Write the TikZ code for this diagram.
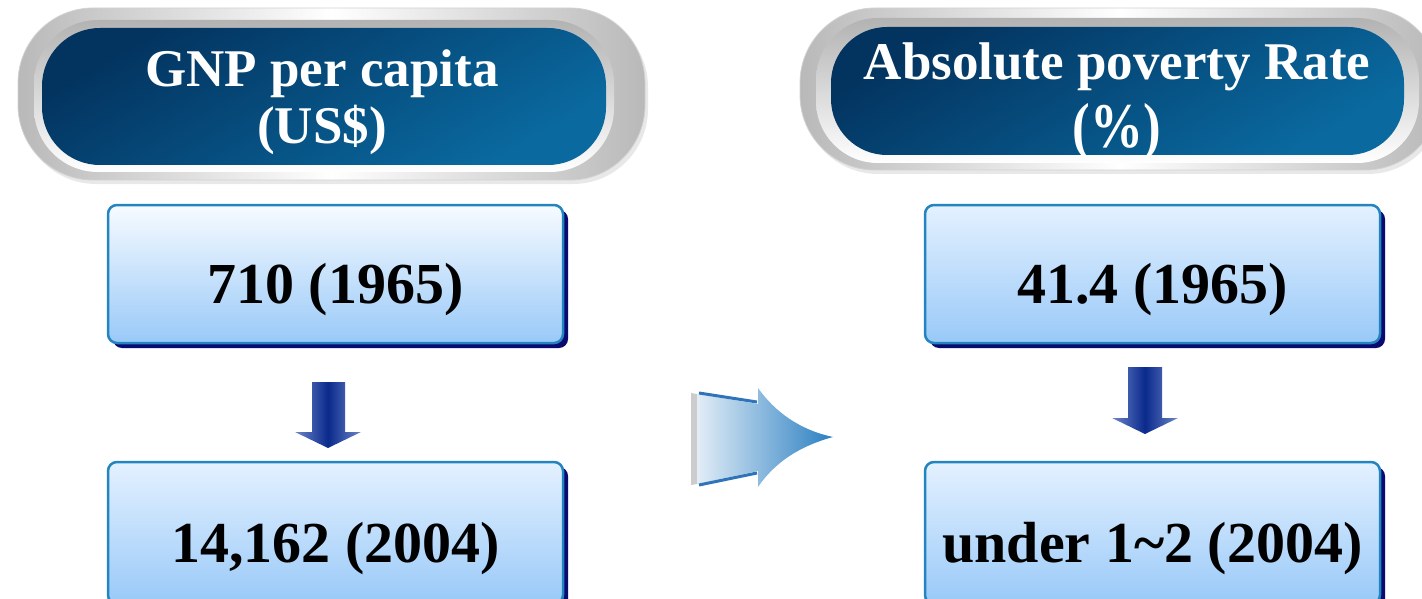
\documentclass[tikz,border=0pt]{standalone}
\usepackage{fontspec}
\usepackage{graphicx}
\setmainfont{Liberation Serif}
\usetikzlibrary{shadows}

\definecolor{hdrdark}{HTML}{03335F}
\definecolor{hdrlight}{HTML}{0A6AA0}
\definecolor{boxedge}{HTML}{2385C0}
\definecolor{boxbottom}{HTML}{99C9F8}
\definecolor{boxtopA}{HTML}{F7FBFF}
\definecolor{boxtopB}{HTML}{E4F1FF}
\definecolor{shadownavy}{HTML}{0A0A70}
\definecolor{downmid}{HTML}{0A2A8C}
\definecolor{downside}{HTML}{6D86C8}
\definecolor{bigleft}{HTML}{E2EDF7}
\definecolor{bigright}{HTML}{2A7FC1}
\definecolor{bigedge}{HTML}{2F74B9}

\tikzset{
  silver/.style={left color=gray!55, right color=gray!55, middle color=white,
    draw=gray!35, line width=0.8pt},
  ring/.style={top color=gray!60, bottom color=white},
  hdrpill/.style={rectangle, inner sep=0pt, top color=hdrdark,
    bottom color=hdrlight, shading angle=30},
  hdrtext/.style={text=white, align=center, inner sep=0pt,
    font=\fontsize{53}{57}\selectfont\bfseries},
  valbox/.style={rectangle, rounded corners=9pt, draw=boxedge, line width=2.5pt,
    minimum width=455pt, top color=#1, bottom color=boxbottom,
    drop shadow={shadow xshift=5pt, shadow yshift=-5pt, fill=shadownavy, opacity=1},
    font=\fontsize{58}{60}\selectfont\bfseries,
    text height=58pt, text depth=0pt, inner sep=0pt},
  downarrow/.style={left color=downside, right color=downside, middle color=downmid},
}

\begin{document}
\begin{tikzpicture}[x=1pt,y=-1pt]
\useasboundingbox (0,0) rectangle (1422,599);
\clip (0,0) rectangle (1422,599);

% ---- left heading: silver frame and blue pill
\fill[gray!18, rounded corners=75pt] (21,12) rectangle (648,184);
\path[silver, rounded corners=75pt] (18,8) rectangle (645,180);
\path[ring, rounded corners=64pt] (34,20) rectangle (614,172);
\node[hdrpill, minimum width=564pt, minimum height=137pt, rounded corners=58pt] (hL) at (324,96.5) {};
\node[hdrtext] (hLt) at (322,102.5) {GNP per capita\\(US\$)};

% ---- right heading
\fill[gray!18, rounded corners=75pt] (803,12) rectangle (1443,174);
\path[silver, rounded corners=75pt] (800,8) rectangle (1440,170);
\path[ring, rounded corners=62pt] (816,18) rectangle (1419,163);
\node[hdrpill, minimum width=573pt, minimum height=128pt, rounded corners=56pt] (hR) at (1117.5,91) {};
\node[hdrtext] (hRt) at (1117,101.5) {Absolute poverty Rate\\[11pt]\scalebox{1}[1.2]{(\%)}};

% ---- value boxes
\node[valbox=boxtopA, minimum height=138pt] (b1) at (335.5,274) {710 (1965)};
\node[valbox=boxtopB, minimum height=142pt] (b2) at (335.5,533) {14,162 (2004)};
\node[valbox=boxtopB, minimum height=138pt] (b3) at (1152.5,274) {41.4 (1965)};
\node[valbox=boxtopB, minimum height=142pt] (b4) at (1152.5,533) {under 1\textasciitilde2 (2004)};

% ---- downward block arrows
\shade[downarrow] (312,382) -- (345,382) -- (345,432) -- (361,432) -- (328,448)
  -- (295,432) -- (312,432) -- cycle;
\shade[downarrow] (1128,367) -- (1162,367) -- (1162,418) -- (1178,418) -- (1145,434)
  -- (1112,418) -- (1128,418) -- cycle;

% ---- large arrow between the two columns
\fill[gray!40] (691,393) -- (697,394) -- (697,484) -- (691,485) -- cycle;
\shade[left color=bigleft, right color=bigright]
  (697,394) -- (758,404) -- (758,388)
  .. controls (775,412) and (800,430) .. (833,437)
  .. controls (800,446) and (775,462) .. (758,487)
  -- (758,471) -- (697,484) -- cycle;
\draw[bigedge, line width=3pt] (699,393) -- (757,402);
\draw[bigedge, line width=3pt] (699,485) -- (757,473);
\end{tikzpicture}
\end{document}
